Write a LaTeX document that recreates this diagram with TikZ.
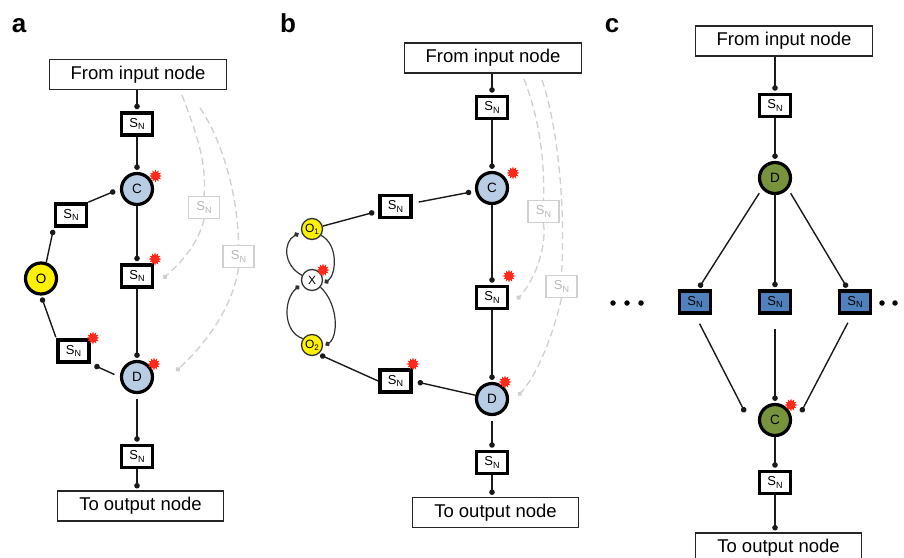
\documentclass[tikz,border=0pt]{standalone}
\usepackage{fontspec}
\setmainfont{Liberation Sans}
\usetikzlibrary{arrows.meta,shapes.geometric,calc}

\definecolor{cblue}{HTML}{B8CCE4}
\definecolor{cgreen}{HTML}{77933C}
\definecolor{sblue}{HTML}{4F81BD}
\definecolor{oyel}{HTML}{FFF200}
\definecolor{ghost}{HTML}{D0D0D0}
\definecolor{ghosttxt}{HTML}{B8B8B8}
\definecolor{linec}{HTML}{1A1A1A}
\definecolor{starred}{HTML}{FF2A1A}

\newcommand\snlab{S\raisebox{-0.35ex}{\fontsize{9}{9}\selectfont N}}
\newcommand\sublab[2]{#1\raisebox{-0.35ex}{\fontsize{8}{8}\selectfont #2}}

\tikzset{
  iobox/.style={draw=black!85, line width=1.1pt, fill=white, minimum width=177pt,
    minimum height=30pt, inner sep=0pt, font=\fontsize{18.5}{20}\selectfont},
  snbox/.style={draw=black, line width=3.6pt, fill=white, minimum width=31pt,
    minimum height=22pt, inner sep=0pt, font=\fontsize{13}{13}\selectfont},
  ghostbox/.style={draw=ghost, line width=1.2pt, fill=white, minimum width=31pt,
    minimum height=22pt, inner sep=0pt, text=ghosttxt, font=\fontsize{13}{13}\selectfont},
  cbig/.style={circle, draw=black, line width=3.2pt, minimum size=31pt, inner sep=0pt,
    font=\fontsize{13.5}{13.5}\selectfont},
  csmall/.style={circle, draw=black!80, line width=1.3pt, minimum size=21pt, inner sep=0pt,
    font=\fontsize{12}{12}\selectfont},
  link/.style={draw=linec, line width=1.4pt, -{Circle[length=5.5pt,width=5.5pt]}, shorten >=2pt},
  thinlink/.style={draw=black!80, line width=1.2pt, -{Circle[length=5pt,width=5pt]}, shorten >=3pt},
  ghostlink/.style={draw=ghost, line width=1.3pt, dash pattern=on 7pt off 4pt},
  ghostdot/.style={ghostlink, -{Circle[length=5pt,width=5pt]}},
  redstar/.style={star, star points=12, star point ratio=1.7, fill=starred, draw=none,
    inner sep=0pt, minimum size=13pt},
  panel/.style={font=\fontsize{26}{26}\selectfont\bfseries, anchor=base, inner sep=0pt},
  bigdot/.style={circle, fill=black, inner sep=0pt, minimum size=5.5pt},
}

\begin{document}
\begin{tikzpicture}[x=1pt, y=-1pt]
\useasboundingbox (0,0) rectangle (904,557);
\fill[white] (0,0) rectangle (904,557);

% ---------- panel labels ----------
\node[panel] (la) at (19,32) {a};
\node[panel] (lb) at (288,32) {b};
\node[panel] (lc) at (612,32) {c};

% ================= panel a =================
\node[iobox] (a_in) at (138,74.5) {From input node};
\node[snbox] (a_s1) at (137,124) {\snlab};
\node[cbig, fill=cblue] (a_c) at (137,189) {C};
\node[snbox] (a_s2) at (137,276) {\snlab};
\node[cbig, fill=cblue] (a_d) at (137,377) {D};
\node[snbox] (a_s3) at (137,456.5) {\snlab};
\node[iobox, minimum width=166pt] (a_out) at (140.5,506) {To output node};
\node[snbox] (a_sl1) at (71,215) {\snlab};
\node[cbig, fill=oyel] (a_o) at (41,278.5) {O};
\node[snbox] (a_sl2) at (73.5,351) {\snlab};
\node[ghostbox] (a_g1) at (204,207.5) {\snlab};
\node[ghostbox] (a_g2) at (238.5,256.5) {\snlab};
\coordinate (a_g1s) at (182,95);
\coordinate (a_g2s) at (200,108);
\coordinate (a_g1e) at (163,278.5);
\coordinate (a_g2e) at (176,371);

\draw[link] (a_s1 |- a_in.south) -- (a_s1);
\draw[link] (a_s1) -- (a_c);
\draw[link] (a_c) -- (a_s2);
\draw[link] (a_s2) -- (a_d);
\draw[link, shorten <=5pt] (a_d) -- (a_s3);
\draw[link] (a_s3) -- (a_s3 |- a_out.north);
\draw[link, shorten >=5pt] (a_sl1.north east) -- (a_c.west);
\draw[link] (a_o.72) -- (a_sl1.south west);
\draw[link, shorten <=1pt] (a_sl2.north west) -- (a_o.south);
\draw[link, shorten <=6pt, shorten >=4pt] (a_d.west) -- (a_sl2.south east);

\draw[ghostlink] (a_g1s) .. controls (195,130) and (207,160) .. (a_g1.north);
\draw[ghostdot] (a_g1.south) .. controls (199,242) and (182,262) .. (a_g1e);
\draw[ghostlink] (a_g2s) .. controls (222,140) and (238,195) .. (a_g2.north);
\draw[ghostdot] (a_g2.south) .. controls (233,305) and (208,342) .. (a_g2e);

\node[redstar] (a_st1) at (155.5,176) {};
\node[redstar] (a_st2) at (155,259) {};
\node[redstar] (a_st3) at (154,364) {};
\node[redstar] (a_st4) at (93,338) {};

% ================= panel b =================
\node[iobox] (b_in) at (493,58) {From input node};
\node[snbox] (b_s1) at (492,107.5) {\snlab};
\node[cbig, fill=cblue] (b_c) at (492,188) {C};
\node[snbox] (b_s2) at (492,297.5) {\snlab};
\node[cbig, fill=cblue] (b_d) at (492,399) {D};
\node[snbox] (b_s3) at (492,462.5) {\snlab};
\node[iobox, minimum width=166pt] (b_out) at (495.5,512.5) {To output node};
\node[snbox] (b_sul) at (395.5,206.5) {\snlab};
\node[snbox] (b_sll) at (395.5,381) {\snlab};
\node[csmall, fill=oyel] (b_o1) at (312,229) {\sublab{O}{1}};
\node[csmall, fill=white] (b_x) at (312,280) {X};
\node[csmall, fill=oyel] (b_o2) at (312,345) {\sublab{O}{2}};
\node[ghostbox] (b_g1) at (543.5,211.5) {\snlab};
\node[ghostbox] (b_g2) at (561.5,286.5) {\snlab};
\coordinate (b_g1s) at (524,79);
\coordinate (b_g2s) at (542,80);
\coordinate (b_g1e) at (517,299.5);
\coordinate (b_g2e) at (518,395.5);

\draw[link] (b_s1 |- b_in.south) -- (b_s1);
\draw[link] (b_s1) -- (b_c);
\draw[link] (b_c) -- (b_s2);
\draw[link] (b_s2) -- (b_d);
\draw[link, shorten <=5pt] (b_d) -- (b_s3);
\draw[link] (b_s3) -- (b_s3 |- b_out.north);
\draw[link, shorten >=4pt] (b_o1) -- (b_sul);
\draw[link, shorten <=6pt, shorten >=4pt] (b_sul) -- (b_c);
\draw[link, shorten >=5pt] (b_d) -- (b_sll.east);
\draw[link] (b_sll.west) -- (b_o2.-55);

\draw[thinlink] (b_x.155) .. controls (283,265) and (283,242) .. (b_o1.195);
\draw[thinlink] (b_o1.-35) .. controls (339,245) and (336,275) .. (b_x.-25);
\draw[thinlink] (b_o2.145) .. controls (283,332) and (283,300) .. (b_x.200);
\draw[thinlink] (b_x.-40) .. controls (339,305) and (338,337) .. (b_o2.-10);

\draw[ghostlink] (b_g1s) .. controls (536,110) and (545,150) .. (b_g1.north);
\draw[ghostdot] (b_g1.south) .. controls (547,250) and (533,282) .. (b_g1e);
\draw[ghostlink] (b_g2s) .. controls (556,120) and (566,200) .. (b_g2.north);
\draw[ghostdot] (b_g2.south) .. controls (552,340) and (535,378) .. (b_g2e);

\node[redstar] (b_st1) at (513,173) {};
\node[redstar] (b_st2) at (509,276) {};
\node[redstar] (b_st3) at (505,382) {};
\node[redstar] (b_st4) at (413,364) {};
\node[redstar] (b_st5) at (323,270) {};

% ================= panel c =================
\node[iobox] (c_in) at (784,41) {From input node};
\node[snbox] (c_s1) at (775,105.5) {\snlab};
\node[cbig, fill=cgreen] (c_d) at (775,178) {D};
\node[snbox, fill=sblue] (c_snl) at (695,302) {\snlab};
\node[snbox, fill=sblue] (c_snm) at (775,302) {\snlab};
\node[snbox, fill=sblue] (c_snr) at (855,302) {\snlab};
\node[cbig, fill=cgreen] (c_c) at (775,420) {C};
\node[snbox] (c_s2) at (775,482.5) {\snlab};
\node[iobox, minimum width=166pt] (c_out) at (778.5,548) {To output node};

\node[bigdot] (c_l1) at (613,303) {};
\node[bigdot] (c_l2) at (627,303) {};
\node[bigdot] (c_l3) at (641,303) {};
\node[bigdot] (c_r1) at (882,303) {};
\node[bigdot] (c_r2) at (895,303) {};

\draw[link] (c_s1 |- c_in.south) -- (c_s1);
\draw[link] (c_s1) -- (c_d);
\draw[link, shorten <=5pt] (c_d.220) -- ([xshift=3pt]c_snl.north);
\draw[link] (c_d) -- (c_snm);
\draw[link, shorten <=5pt] (c_d.-40) -- ([xshift=-7pt]c_snr.north);
\draw[link, shorten <=10pt] (c_snl.south) -- ($(c_c.west)+(-12,-6)$);
\draw[link, shorten <=14pt] (c_snm) -- (c_c);
\draw[link, shorten <=9pt] ([xshift=-3pt]c_snr.south) -- ($(c_c.east)+(8,-6)$);
\draw[link] (c_c) -- (c_s2);
\draw[link] (c_s2) -- (c_s2 |- c_out.north);

\node[redstar] (c_st1) at (791,405) {};
\end{tikzpicture}
\end{document}
